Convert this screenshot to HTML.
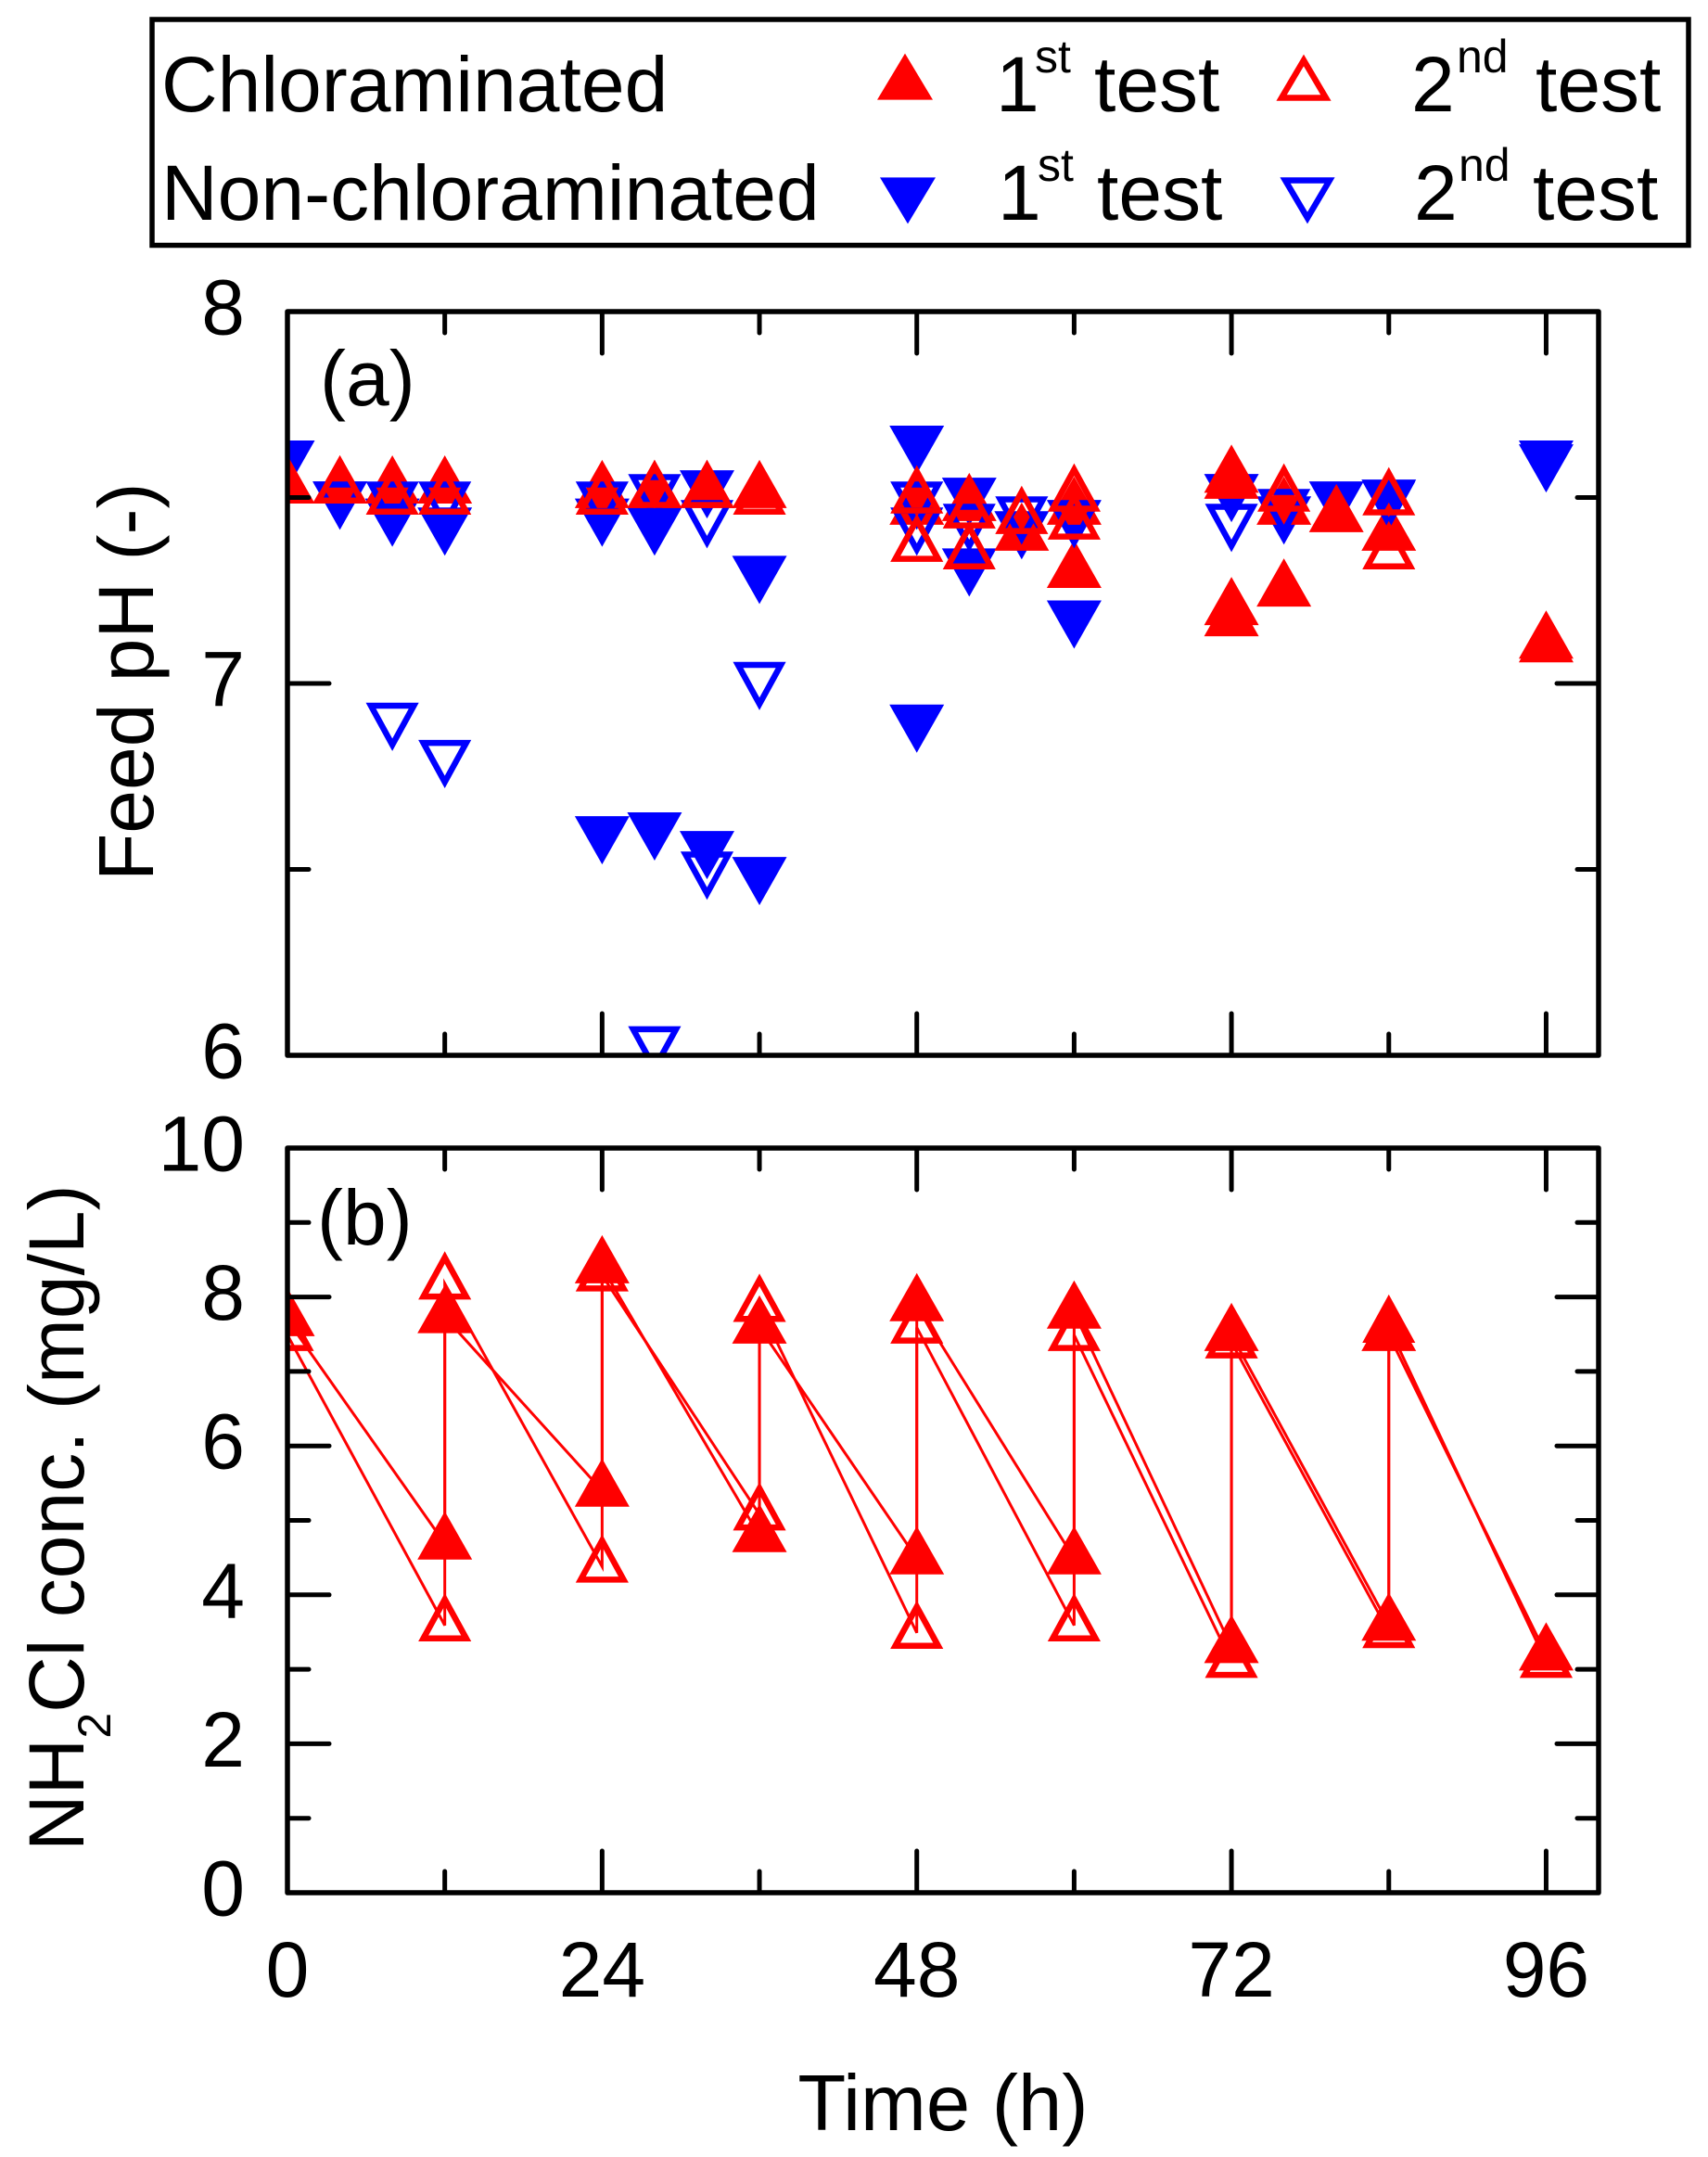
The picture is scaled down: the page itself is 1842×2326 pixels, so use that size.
<!DOCTYPE html>
<html lang="en">
<head>
<meta charset="utf-8">
<title>Feed pH and NH2Cl concentration over time</title>
<style>
html,body{margin:0;padding:0;background:#fff;}
svg{display:block;}
text{font-family:"Liberation Sans",Arial,sans-serif;font-size:84px;fill:#000;}
</style>
</head>
<body>
<svg id="figure" xmlns="http://www.w3.org/2000/svg" width="1842" height="2326" viewBox="0 0 1842 2326">
  <defs>
    <clipPath id="clip-a"><rect x="310" y="336" width="1414" height="802"/></clipPath>
    <clipPath id="clip-b"><rect x="310" y="1238" width="1414" height="803"/></clipPath>
  </defs>
  <rect x="164" y="21" width="1657" height="243.5" fill="#fff" stroke="#000" stroke-width="5.5"/>
  <g>
    <text x="174" y="120">Chloraminated</text>
    <text x="174" y="237">Non-chloraminated</text>
    <text x="1074" y="120">1</text>
    <text x="1116" y="78" style="font-size:50px">st</text>
    <text x="1180" y="120">test</text>
    <text x="1522" y="120">2</text>
    <text x="1571" y="78" style="font-size:50px">nd</text>
    <text x="1656" y="120">test</text>
    <text x="1076" y="237">1</text>
    <text x="1119" y="195" style="font-size:50px">st</text>
    <text x="1183" y="237">test</text>
    <text x="1525" y="237">2</text>
    <text x="1573" y="195" style="font-size:50px">nd</text>
    <text x="1653" y="237">test</text>
  </g>
  <g id="legend-markers"></g>
  <g id="marks-a" clip-path="url(#clip-a)"></g>
  <g id="axes-a"></g>
  <g id="marks-b" clip-path="url(#clip-b)"></g>
  <g id="axes-b"></g>
  <text x="345" y="437">(a)</text>
  <text x="342" y="1342">(b)</text>
  <text transform="translate(165 950) rotate(-90)" x="0" y="0">Feed pH (-)</text>
  <text transform="translate(90 1996) rotate(-90)" x="0" y="0">NH<tspan dy="29" style="font-size:50px">2</tspan><tspan dy="-29">Cl conc. (mg/L)</tspan></text>
  <text x="1017" y="2297" text-anchor="middle" style="font-size:85px">Time (h)</text>
</svg>
<script>
// Panel (a): feed pH
const blueFilledHours = [0,4,8,12,24,24,28,28,32,32,36,36,48,48,52,52,56,60,60,72,76,80,84,96,96];
const blueFilledPH = [7.61,7.50,7.454,7.43,7.454,6.60,7.43,6.61,7.53,6.56,7.30,6.49,7.65,6.90,7.51,7.32,7.42,7.18,7.45,7.52,7.46,7.50,7.505,7.61,7.60];
const redFilledHours = [0,4,8,12,24,28,32,36,48,52,56,60,60,72,72,72,72,76,76,80,84,96,96];
const redFilledPH = [7.527,7.527,7.527,7.527,7.515,7.515,7.515,7.515,7.47,7.48,7.40,7.47,7.30,7.54,7.556,7.17,7.20,7.47,7.25,7.45,7.40,7.10,7.11];
const blueOpenHours = [4,8,8,12,12,24,28,28,32,32,36,48,48,52,56,60,72,76,84];
const blueOpenPH = [7.50,7.50,6.905,7.50,6.805,7.50,7.52,6.035,7.45,6.505,7.015,7.50,7.43,7.44,7.46,7.45,7.44,7.48,7.50];
const redOpenHours = [0,4,8,12,24,28,32,36,48,48,52,52,56,60,60,72,76,84,84];
const redOpenPH = [7.527,7.527,7.497,7.497,7.497,7.515,7.515,7.497,7.50,7.37,7.46,7.35,7.445,7.505,7.43,7.54,7.505,7.495,7.35];

// Panel (b): NH2Cl concentration
const concHours = [0,12,12,24,24,36,36,48,48,60,60,72,72,84,84,96];
const concFilled = [7.69,4.69,7.73,5.40,8.40,4.79,7.59,4.49,7.89,4.49,7.79,3.30,7.49,3.60,7.49,3.20];
const concOpen = [7.49,3.59,8.18,4.38,8.29,5.08,7.88,3.49,7.59,3.59,7.49,3.10,7.39,3.50,7.60,3.10];

// Tick values and labels
const xMajorTicks = [0,24,48,72,96];
const xMinorTicks = [12,36,60,84];
const xTickLabels = ['0','24','48','72','96'];
const phMajorTicks = [6,7,8];
const phMinorTicks = [6.5,7.5];
const phTickLabels = ['6','7','8'];
const concMajorTicks = [0,2,4,6,8,10];
const concMinorTicks = [1,3,5,7,9];
const concTickLabels = ['0','2','4','6','8','10'];

const SVG_NS = 'http://www.w3.org/2000/svg';
const X0 = 310, X1 = 1724;
const A_TOP = 336, A_BOTTOM = 1138, B_TOP = 1238, B_BOTTOM = 2041;
const xScale = function (h) { return X0 + (h / 100) * (X1 - X0); };
const yScaleA = function (v) { return A_BOTTOM - ((v - 6) / 2) * (A_BOTTOM - A_TOP); };
const yScaleB = function (v) { return B_BOTTOM - (v / 10) * (B_BOTTOM - B_TOP); };

function make(tag, parent) {
  const el = document.createElementNS(SVG_NS, tag);
  parent.appendChild(el);
  return el;
}

function trianglePoints(cx, cy, w, h, up, scale) {
  const s = scale || 1;
  const dir = up ? 1 : -1;
  const tipY = cy - dir * (2 / 3) * h * s;
  const baseY = cy + dir * (1 / 3) * h * s;
  const half = (w / 2) * s;
  return cx + ',' + tipY + ' ' + (cx - half) + ',' + baseY + ' ' + (cx + half) + ',' + baseY;
}

function drawTriangle(parent, cx, cy, color, up, filled, name, w, h) {
  const el = make('polygon', parent);
  
  
  if (filled) {
    el.setAttribute('points', trianglePoints(cx, cy, w || 59, h || 52, up, 1));
    el.setAttribute('fill', color);
  } else {
    el.setAttribute('points', trianglePoints(cx, cy, w || 57, h || 52, up, 0.81));
    el.setAttribute('fill', 'none');
    el.setAttribute('stroke', color);
    el.setAttribute('stroke-width', '6.5');
    el.setAttribute('stroke-linejoin', 'miter');
  }
  return el;
}

function drawSeries(parent, hours, values, yScale, color, up, filled, name) {
  hours.forEach(function (h, i) {
    drawTriangle(parent, xScale(h), yScale(values[i]), color, up, filled, name);
  });
}

function drawLine(parent, hours, values, name) {
  const el = make('polyline', parent);
  
  
  el.setAttribute('points', hours.map(function (h, i) {
    return xScale(h) + ',' + yScaleB(values[i]);
  }).join(' '));
  el.setAttribute('fill', 'none');
  el.setAttribute('stroke', '#ff0000');
  el.setAttribute('stroke-width', '3');
}

function tick(parent, x1, y1, x2, y2, name) {
  const el = make('line', parent);
  
  
  el.setAttribute('x1', x1);
  el.setAttribute('y1', y1);
  el.setAttribute('x2', x2);
  el.setAttribute('y2', y2);
  el.setAttribute('stroke', '#000');
  el.setAttribute('stroke-width', '5');
  el.setAttribute('stroke-linecap', 'round');
}

function drawAxes(parent, top, bottom, yScale, majors, minors, labels, showXLabels) {
  const MAJOR = 45, MINOR = 23;
  xMajorTicks.forEach(function (h) {
    tick(parent, xScale(h), bottom, xScale(h), bottom - MAJOR, 'x-major-tick');
    tick(parent, xScale(h), top, xScale(h), top + MAJOR, 'x-major-tick-top');
  });
  xMinorTicks.forEach(function (h) {
    tick(parent, xScale(h), bottom, xScale(h), bottom - MINOR, 'x-minor-tick');
    tick(parent, xScale(h), top, xScale(h), top + MINOR, 'x-minor-tick-top');
  });
  majors.forEach(function (v, i) {
    tick(parent, X0, yScale(v), X0 + MAJOR, yScale(v), 'y-major-tick');
    tick(parent, X1, yScale(v), X1 - MAJOR, yScale(v), 'y-major-tick-right');
    const t = make('text', parent);
    
    
    t.setAttribute('x', 264);
    t.setAttribute('y', yScale(v) + 24.5);
    t.setAttribute('text-anchor', 'end');
    t.textContent = labels[i];
  });
  minors.forEach(function (v) {
    tick(parent, X0, yScale(v), X0 + MINOR, yScale(v), 'y-minor-tick');
    tick(parent, X1, yScale(v), X1 - MINOR, yScale(v), 'y-minor-tick-right');
  });
  const frame = make('rect', parent);
  
  
  frame.setAttribute('x', X0);
  frame.setAttribute('y', top);
  frame.setAttribute('width', X1 - X0);
  frame.setAttribute('height', bottom - top);
  frame.setAttribute('fill', 'none');
  frame.setAttribute('stroke', '#000');
  frame.setAttribute('stroke-width', '5.5');
  frame.setAttribute('stroke-linejoin', 'round');
  if (showXLabels) {
    xMajorTicks.forEach(function (h, i) {
      const t = make('text', parent);
      
      
      t.setAttribute('x', xScale(h));
      t.setAttribute('y', 2153);
      t.setAttribute('text-anchor', 'middle');
      t.textContent = xTickLabels[i];
    });
  }
}

const marksA = document.getElementById('marks-a');
drawSeries(marksA, blueFilledHours, blueFilledPH, yScaleA, '#0000ff', false, true, 'non-chloraminated-first-test-point');
drawSeries(marksA, redFilledHours, redFilledPH, yScaleA, '#ff0000', true, true, 'chloraminated-first-test-point');
drawSeries(marksA, blueOpenHours, blueOpenPH, yScaleA, '#0000ff', false, false, 'non-chloraminated-second-test-point');
drawSeries(marksA, redOpenHours, redOpenPH, yScaleA, '#ff0000', true, false, 'chloraminated-second-test-point');
drawAxes(document.getElementById('axes-a'), A_TOP, A_BOTTOM, yScaleA, phMajorTicks, phMinorTicks, phTickLabels, false);

const marksB = document.getElementById('marks-b');
drawLine(marksB, concHours, concOpen, 'second-test-line');
drawLine(marksB, concHours, concFilled, 'first-test-line');
drawSeries(marksB, concHours, concOpen, yScaleB, '#ff0000', true, false, 'concentration-second-test-point');
drawSeries(marksB, concHours, concFilled, yScaleB, '#ff0000', true, true, 'concentration-first-test-point');
drawAxes(document.getElementById('axes-b'), B_TOP, B_BOTTOM, yScaleB, concMajorTicks, concMinorTicks, concTickLabels, true);

const legendMarkers = document.getElementById('legend-markers');
drawTriangle(legendMarkers, 976, 91, '#ff0000', true, true, 'legend-chloraminated-first-marker', 60, 50);
drawTriangle(legendMarkers, 1406, 92, '#ff0000', true, false, 'legend-chloraminated-second-marker', 59, 50);
drawTriangle(legendMarkers, 979, 208, '#0000ff', false, true, 'legend-non-chloraminated-first-marker', 60, 50);
drawTriangle(legendMarkers, 1410, 208, '#0000ff', false, false, 'legend-non-chloraminated-second-marker', 59, 50);
</script>
</body>
</html>
